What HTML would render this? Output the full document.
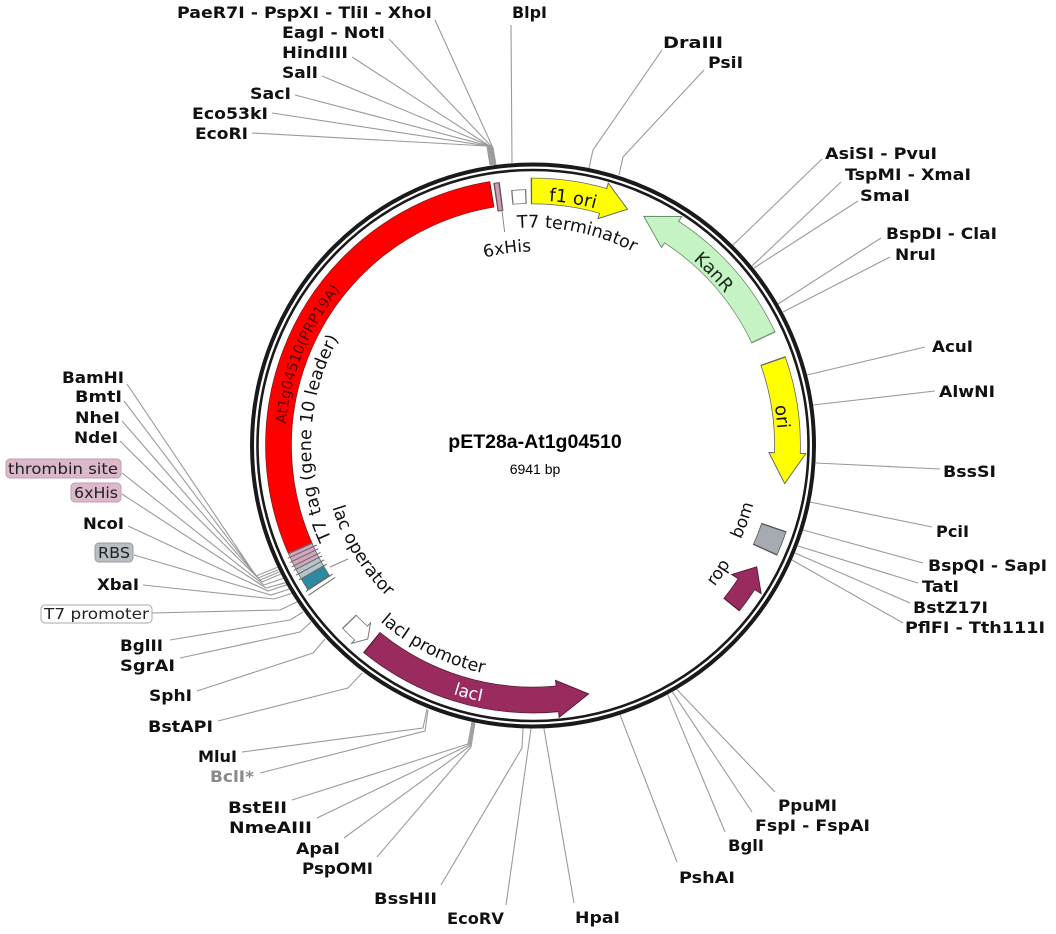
<!DOCTYPE html>
<html><head><meta charset="utf-8"><style>
html,body{margin:0;padding:0;background:#fff;}
svg{display:block;}
.lb{font-family:"DejaVu Sans","Liberation Sans",sans-serif;font-weight:bold;font-size:16px;fill:#111;}
.ft{font-family:"DejaVu Sans","Liberation Sans",sans-serif;font-size:17.5px;fill:#111;}
.bx{font-family:"DejaVu Sans","Liberation Sans",sans-serif;font-size:15.5px;fill:#222;}
</style></head><body>
<svg width="1056" height="934" viewBox="0 0 1056 934" xmlns="http://www.w3.org/2000/svg">
<defs>
<path id="cw248" d="M 533 197.5 A 248 248 0 1 1 533 693.5 A 248 248 0 1 1 533 197.5"/>
<path id="cw245" d="M 533 200.5 A 245 245 0 1 1 533 690.5 A 245 245 0 1 1 533 200.5"/>
<path id="cw218" d="M 533 227.5 A 218 218 0 1 1 533 663.5 A 218 218 0 1 1 533 227.5"/>
<path id="cw222" d="M 533 223.5 A 222 222 0 1 1 533 667.5 A 222 222 0 1 1 533 223.5"/>
<path id="cw194" d="M 533 251.5 A 194 194 0 1 1 533 639.5 A 194 194 0 1 1 533 251.5"/>
<path id="ccw210" d="M 533 235.5 A 210 210 0 1 0 533 655.5 A 210 210 0 1 0 533 235.5"/>
<path id="ccw233" d="M 533 212.5 A 233 233 0 1 0 533 678.5 A 233 233 0 1 0 533 212.5"/>
<path id="ccw261" d="M 533 184.5 A 261 261 0 1 0 533 706.5 A 261 261 0 1 0 533 184.5"/>
<path id="ccw228" d="M 533 217.5 A 228 228 0 1 0 533 673.5 A 228 228 0 1 0 533 217.5"/>
<path id="ccw230" d="M 533 215.5 A 230 230 0 1 0 533 675.5 A 230 230 0 1 0 533 215.5"/>
</defs>

<!-- restriction site lines -->
<g fill="none" stroke="#9a9a9a" stroke-width="1.1">
<polyline points="252,133 487,146 490,165"/>
<polyline points="272,113 488,146 491,165"/>
<polyline points="295,95 489,146 492,165"/>
<polyline points="322,76 490,146 493,165"/>
<polyline points="352,57 491,147 494,165"/>
<polyline points="389,39 492,147 495,165"/>
<polyline points="435,20 493,148 496,165"/>
<polyline points="511,25 512,163"/>
<polyline points="662,50 593,150 589,168"/>
<polyline points="704,70 623,157 619,175"/>
<polyline points="822,159 733,245"/>
<polyline points="841,182 752,266"/>
<polyline points="858,201 754,268"/>
<polyline points="881,238 778,304"/>
<polyline points="890,257 783,312"/>
<polyline points="925,347 807,375"/>
<polyline points="935,391 813,405"/>
<polyline points="940,469 816,463"/>
<polyline points="932,527 810,502"/>
<polyline points="923,563 803,530"/>
<polyline points="918,583 798,546"/>
<polyline points="910,603 795,553"/>
<polyline points="903,623 792,560"/>
<polyline points="775,792 676.6,689.3"/>
<polyline points="752,812 672.3,691.8"/>
<polyline points="725,832 667.6,694.4"/>
<polyline points="677,862 620,714.8"/>
<polyline points="574,903 543.9,728.3"/>
<polyline points="506,905 531,728.5"/>
<polyline points="441,885 522,748 523,728"/>
<polyline points="377,857 471,747 475,722"/>
<polyline points="344,838 470,746 474,722"/>
<polyline points="317,818 469,745 473,722"/>
<polyline points="292,800 468,744 472,722"/>
<polyline points="260,773 425,731 428,710"/>
<polyline points="242,752 423,728 427,709"/>
<polyline points="218,721 348,688 362,673"/>
<polyline points="197,691 313,653 325,639"/>
<polyline points="180,658 300,632 311,622"/>
<polyline points="170,640 290,620 303,612"/>
<polyline points="152,613 280,610 297,602"/>
<polyline points="143,585 274,599 291.7,593.4"/>
<polyline points="134,555 271,595 289.2,589.1"/>
<polyline points="128,526 268,591 286.7,584.8"/>
<polyline points="122,494 266,588 285.5,582.7"/>
<polyline points="122,473 264,585 283.1,578.4"/>
<polyline points="120,441 262,582 280.8,574"/>
<polyline points="122,421 260,580 279.7,571.8"/>
<polyline points="124,401 258,578 278.6,569.6"/>
<polyline points="127,384 256,576 277.6,567.3"/>
</g>

<!-- backbone ring -->
<circle cx="533" cy="445.5" r="281" fill="none" stroke="#1a1a1a" stroke-width="4"/>
<circle cx="533" cy="445.5" r="275.5" fill="none" stroke="#1a1a1a" stroke-width="2.6"/>

<!-- features -->
<g fill="none">
<!-- red gene -->
<circle cx="533" cy="445.5" r="254.5" stroke="#8a1a1a" stroke-width="26.6" stroke-dasharray="466.8 2000" transform="rotate(155.7 533 445.5)"/>
<circle cx="533" cy="445.5" r="254.5" stroke="#ff0000" stroke-width="25" stroke-dasharray="464.2 2000" transform="rotate(156 533 445.5)"/>
<!-- small features left -->
<circle cx="533" cy="445.5" r="254.5" stroke="#666" stroke-width="26.6" stroke-dasharray="40.4 2000" transform="rotate(147.2 533 445.5)"/>
<circle cx="533" cy="445.5" r="254.5" stroke="#d4a6be" stroke-width="25" stroke-dasharray="15.1 2000" transform="rotate(152.6 533 445.5)"/>
<circle cx="533" cy="445.5" r="254.5" stroke="#b7c4cc" stroke-width="25" stroke-dasharray="11.5 2000" transform="rotate(150 533 445.5)"/>
<circle cx="533" cy="445.5" r="254.5" stroke="#2d8aa0" stroke-width="25" stroke-dasharray="11.1 2000" transform="rotate(147.5 533 445.5)"/>
<!-- 6xHis top marker -->
<circle cx="533" cy="445.5" r="251" stroke="#6a4a5a" stroke-width="29" stroke-dasharray="6.2 2000" transform="rotate(261.4 533 445.5)"/>
<circle cx="533" cy="445.5" r="251" stroke="#c9a0b6" stroke-width="27" stroke-dasharray="3.5 2000" transform="rotate(261.7 533 445.5)"/>
<!-- T7 terminator -->
<circle cx="533" cy="445.5" r="249" stroke="#777" stroke-width="14.6" stroke-dasharray="14.8 2000" transform="rotate(265.1 533 445.5)"/>
<circle cx="533" cy="445.5" r="249" stroke="#fff" stroke-width="13" stroke-dasharray="12.2 2000" transform="rotate(265.4 533 445.5)"/>
<!-- f1 ori -->
<circle cx="533" cy="445.5" r="254.5" stroke="#666" stroke-width="26.6" stroke-dasharray="73.3 2000" transform="rotate(-90.5 533 445.5)"/>
</g>
<polygon points="533,172.5 533,209.5 558.7,192.3" fill="#ffff00" stroke="#666" stroke-width="1" transform="rotate(16 533 445.5)"/>
<circle cx="533" cy="445.5" r="254.5" fill="none" stroke="#ffff00" stroke-width="25" stroke-dasharray="74.2 2000" transform="rotate(-90.2 533 445.5)"/>
<!-- KanR -->
<circle cx="533" cy="445.5" r="254.5" fill="none" stroke="#6d8f6d" stroke-width="26.6" stroke-dasharray="142.1 2000" transform="rotate(-57 533 445.5)"/>
<polygon points="533,172.5 533,209.5 501.1,193.0" fill="#c6f3c4" stroke="#6d8f6d" stroke-width="1" transform="rotate(33 533 445.5)"/>
<circle cx="533" cy="445.5" r="254.5" fill="none" stroke="#c6f3c4" stroke-width="25" stroke-dasharray="143 2000" transform="rotate(-57.5 533 445.5)"/>
<!-- ori -->
<circle cx="533" cy="445.5" r="254.5" fill="none" stroke="#666" stroke-width="26.6" stroke-dasharray="94.2 2000" transform="rotate(-19.5 533 445.5)"/>
<polygon points="533,172.5 533,209.5 563.6,192.8" fill="#ffff00" stroke="#666" stroke-width="1" transform="rotate(91.7 533 445.5)"/>
<circle cx="533" cy="445.5" r="254.5" fill="none" stroke="#ffff00" stroke-width="25" stroke-dasharray="95.1 2000" transform="rotate(-19.2 533 445.5)"/>
<!-- bom -->
<circle cx="533" cy="445.5" r="254.5" fill="none" stroke="#555" stroke-width="26.6" stroke-dasharray="24.9 2000" transform="rotate(18.7 533 445.5)"/>
<circle cx="533" cy="445.5" r="254.5" fill="none" stroke="#a6abb3" stroke-width="25" stroke-dasharray="22.2 2000" transform="rotate(19 533 445.5)"/>
<!-- rop -->
<circle cx="533" cy="445.5" r="254.5" fill="none" stroke="#5a1a38" stroke-width="20.6" stroke-dasharray="25.8 2000" transform="rotate(33 533 445.5)"/>
<polygon points="533,173.5 533,208.5 513.0,191.8" fill="#9a2b5f" stroke="#5a1a38" stroke-width="1" transform="rotate(123 533 445.5)"/>
<circle cx="533" cy="445.5" r="254.5" fill="none" stroke="#9a2b5f" stroke-width="19" stroke-dasharray="26.7 2000" transform="rotate(32.5 533 445.5)"/>
<!-- lacI -->
<circle cx="533" cy="445.5" r="254.5" fill="none" stroke="#5a1a38" stroke-width="26.6" stroke-dasharray="199.4 2000" transform="rotate(84.5 533 445.5)"/>
<polygon points="533,172.5 533,209.5 501.5,192.95" fill="#9a2b5f" stroke="#5a1a38" stroke-width="1" transform="rotate(174.5 533 445.5)"/>
<circle cx="533" cy="445.5" r="254.5" fill="none" stroke="#9a2b5f" stroke-width="25" stroke-dasharray="200.3 2000" transform="rotate(84 533 445.5)"/>
<!-- lacI promoter -->
<circle cx="533" cy="445.5" r="254.5" fill="none" stroke="#777" stroke-width="19.6" stroke-dasharray="16.9 2000" transform="rotate(132.5 533 445.5)"/>
<polygon points="533,177 533,205 524.1,191.2" fill="#fff" stroke="#777" stroke-width="1" transform="rotate(222.5 533 445.5)"/>
<circle cx="533" cy="445.5" r="254.5" fill="none" stroke="#fff" stroke-width="18" stroke-dasharray="17.8 2000" transform="rotate(132 533 445.5)"/>

<!-- tick lines on small features -->
<g stroke="#666" stroke-width="1">
<line x1="316.8" y1="545.0" x2="287.7" y2="558.3"/>
<line x1="318.5" y1="548.7" x2="289.7" y2="562.6"/>
<line x1="320.4" y1="552.4" x2="291.8" y2="566.8"/>
<line x1="322.1" y1="555.8" x2="293.7" y2="570.6"/>
<line x1="324.3" y1="559.8" x2="296.2" y2="575.2"/>
<line x1="326.7" y1="564.1" x2="298.9" y2="580.1"/>
<line x1="332.7" y1="574.1" x2="305.8" y2="591.4"/>
<line x1="335" y1="577.5" x2="308.4" y2="595.3"/>
</g>
<g stroke="#888" stroke-width="1">
<line x1="501.7" y1="207.6" x2="504.6" y2="232"/>
<line x1="330" y1="567" x2="348" y2="559"/>
</g>

<!-- feature labels (curved) -->
<text class="ft" transform="rotate(-168.3 533 445.5)"><textPath href="#cw218" startOffset="50%" text-anchor="middle">T7 terminator</textPath></text>
<text class="ft" style="font-size:17px" transform="rotate(172.5 533 445.5)"><textPath href="#cw194" startOffset="50%" text-anchor="middle">6xHis</textPath></text>
<text class="ft" transform="rotate(92 533 445.5)"><textPath href="#cw222" startOffset="50%" text-anchor="middle">T7 tag (gene 10 leader)</textPath></text>
<text class="ft" style="font-size:14.5px;fill:#5a0000" transform="rotate(112 533 445.5)"><textPath href="#cw248" startOffset="50%" text-anchor="middle">At1g04510(PRP19A)</textPath></text>
<text class="ft" style="font-size:18px" transform="rotate(-170.8 533 445.5)"><textPath href="#cw245" startOffset="50%" text-anchor="middle">f1 ori</textPath></text>
<text class="ft" style="font-size:18px;fill:#1a2a1a" transform="rotate(-133.8 533 445.5)"><textPath href="#cw245" startOffset="50%" text-anchor="middle">KanR</textPath></text>
<text class="ft" style="font-size:18px" transform="rotate(-96.6 533 445.5)"><textPath href="#cw245" startOffset="50%" text-anchor="middle">ori</textPath></text>
<text class="ft" transform="rotate(58.4 533 445.5)"><textPath href="#ccw210" startOffset="50%" text-anchor="middle">lac operator</textPath></text>
<text class="ft" transform="rotate(26.6 533 445.5)"><textPath href="#ccw233" startOffset="50%" text-anchor="middle">lacI promoter</textPath></text>
<text class="ft" style="font-size:17px;fill:#fff" transform="rotate(14.6 533 445.5)"><textPath href="#ccw261" startOffset="50%" text-anchor="middle">lacI</textPath></text>
<text class="ft" style="font-size:17px" transform="rotate(-70.4 533 445.5)"><textPath href="#ccw228" startOffset="50%" text-anchor="middle">bom</textPath></text>
<text class="ft" style="font-size:17px" transform="rotate(-55.6 533 445.5)"><textPath href="#ccw230" startOffset="50%" text-anchor="middle">rop</textPath></text>

<!-- center title -->
<text x="535" y="448" text-anchor="middle" style="font-family:'Liberation Sans',Arial,sans-serif;font-weight:bold;font-size:19.5px;fill:#000">pET28a-At1g04510</text>
<text x="535" y="474" text-anchor="middle" style="font-family:'Liberation Sans',Arial,sans-serif;font-size:14px;fill:#000">6941 bp</text>

<!-- boxed labels -->
<rect x="6" y="459" width="115" height="19" rx="4" fill="#dcb8cb" stroke="#c29cb0"/>
<text class="bx" x="8" y="474" textLength="110" lengthAdjust="spacingAndGlyphs">thrombin site</text>
<rect x="71" y="483" width="50" height="19" rx="4" fill="#dcb8cb" stroke="#c29cb0"/>
<text class="bx" x="74" y="498" textLength="44" lengthAdjust="spacingAndGlyphs">6xHis</text>
<rect x="95" y="543" width="38" height="19" rx="4" fill="#b9bec4" stroke="#999"/>
<text class="bx" x="98" y="558" textLength="32" lengthAdjust="spacingAndGlyphs">RBS</text>
<rect x="41" y="605" width="111" height="18" rx="4" fill="#fff" stroke="#aaa"/>
<text class="bx" x="44" y="619" textLength="105" lengthAdjust="spacingAndGlyphs">T7 promoter</text>

<!-- restriction site labels -->
<g class="lb">
<text x="177" y="18" textLength="255" lengthAdjust="spacingAndGlyphs">PaeR7I - PspXI - TliI - XhoI</text>
<text x="282" y="38" textLength="103" lengthAdjust="spacingAndGlyphs">EagI - NotI</text>
<text x="282" y="58" textLength="66" lengthAdjust="spacingAndGlyphs">HindIII</text>
<text x="282" y="78" textLength="36" lengthAdjust="spacingAndGlyphs">SalI</text>
<text x="250" y="99" textLength="41" lengthAdjust="spacingAndGlyphs">SacI</text>
<text x="192" y="119" textLength="76" lengthAdjust="spacingAndGlyphs">Eco53kI</text>
<text x="195" y="139" textLength="53" lengthAdjust="spacingAndGlyphs">EcoRI</text>
<text x="512" y="18" textLength="35" lengthAdjust="spacingAndGlyphs">BlpI</text>
<text x="663" y="48" textLength="60" lengthAdjust="spacingAndGlyphs">DraIII</text>
<text x="708" y="68" textLength="35" lengthAdjust="spacingAndGlyphs">PsiI</text>
<text x="825" y="159" textLength="112" lengthAdjust="spacingAndGlyphs">AsiSI - PvuI</text>
<text x="845" y="180" textLength="126" lengthAdjust="spacingAndGlyphs">TspMI - XmaI</text>
<text x="860" y="201" textLength="50" lengthAdjust="spacingAndGlyphs">SmaI</text>
<text x="886" y="239" textLength="111" lengthAdjust="spacingAndGlyphs">BspDI - ClaI</text>
<text x="895" y="260" textLength="41" lengthAdjust="spacingAndGlyphs">NruI</text>
<text x="932" y="352" textLength="41" lengthAdjust="spacingAndGlyphs">AcuI</text>
<text x="939" y="397" textLength="56" lengthAdjust="spacingAndGlyphs">AlwNI</text>
<text x="943" y="477" textLength="53" lengthAdjust="spacingAndGlyphs">BssSI</text>
<text x="936" y="537" textLength="33" lengthAdjust="spacingAndGlyphs">PciI</text>
<text x="928" y="571" textLength="119" lengthAdjust="spacingAndGlyphs">BspQI - SapI</text>
<text x="922" y="592" textLength="37" lengthAdjust="spacingAndGlyphs">TatI</text>
<text x="913" y="613" textLength="75" lengthAdjust="spacingAndGlyphs">BstZ17I</text>
<text x="905" y="633" textLength="140" lengthAdjust="spacingAndGlyphs">PflFI - Tth111I</text>
<text x="778" y="811" textLength="59" lengthAdjust="spacingAndGlyphs">PpuMI</text>
<text x="755" y="831" textLength="115" lengthAdjust="spacingAndGlyphs">FspI - FspAI</text>
<text x="728" y="851" textLength="36" lengthAdjust="spacingAndGlyphs">BglI</text>
<text x="679" y="883" textLength="56" lengthAdjust="spacingAndGlyphs">PshAI</text>
<text x="575" y="923" textLength="45" lengthAdjust="spacingAndGlyphs">HpaI</text>
<text x="447" y="924" textLength="57" lengthAdjust="spacingAndGlyphs">EcoRV</text>
<text x="374" y="904" textLength="63" lengthAdjust="spacingAndGlyphs">BssHII</text>
<text x="302" y="874" textLength="71" lengthAdjust="spacingAndGlyphs">PspOMI</text>
<text x="296" y="854" textLength="44" lengthAdjust="spacingAndGlyphs">ApaI</text>
<text x="229" y="833" textLength="83" lengthAdjust="spacingAndGlyphs">NmeAIII</text>
<text x="228" y="813" textLength="59" lengthAdjust="spacingAndGlyphs">BstEII</text>
<text x="210" y="782" textLength="44" lengthAdjust="spacingAndGlyphs" style="fill:#8a8a8a">BclI*</text>
<text x="198" y="762" textLength="39" lengthAdjust="spacingAndGlyphs">MluI</text>
<text x="148" y="732" textLength="65" lengthAdjust="spacingAndGlyphs">BstAPI</text>
<text x="149" y="701" textLength="43" lengthAdjust="spacingAndGlyphs">SphI</text>
<text x="120" y="671" textLength="55" lengthAdjust="spacingAndGlyphs">SgrAI</text>
<text x="120" y="651" textLength="43" lengthAdjust="spacingAndGlyphs">BglII</text>
<text x="62" y="383" textLength="62" lengthAdjust="spacingAndGlyphs">BamHI</text>
<text x="75" y="402" textLength="47" lengthAdjust="spacingAndGlyphs">BmtI</text>
<text x="75" y="423" textLength="45" lengthAdjust="spacingAndGlyphs">NheI</text>
<text x="74" y="443" textLength="44" lengthAdjust="spacingAndGlyphs">NdeI</text>
<text x="83" y="529" textLength="41" lengthAdjust="spacingAndGlyphs">NcoI</text>
<text x="97" y="590" textLength="42" lengthAdjust="spacingAndGlyphs">XbaI</text>
</g>
</svg>
</body></html>
